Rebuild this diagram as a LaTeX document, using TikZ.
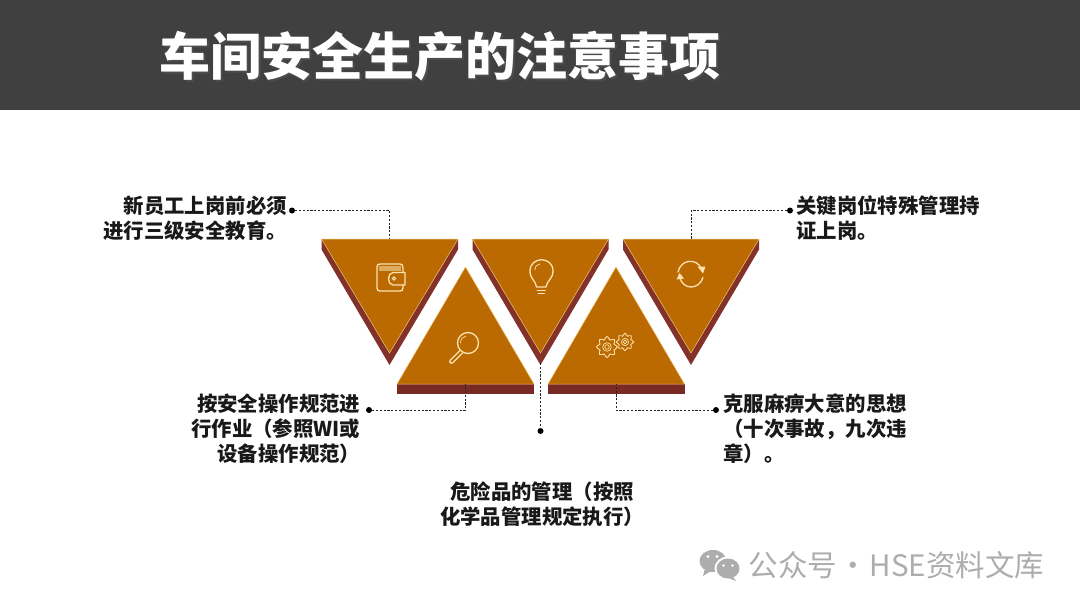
\documentclass[tikz,border=0pt]{standalone}
\usepackage{fontspec}
\setmainfont{Noto Sans CJK SC}
\usetikzlibrary{calc}
\definecolor{hdr}{HTML}{404040}
\definecolor{org}{HTML}{BA6A00}
\definecolor{drk}{HTML}{83322A}
\definecolor{drkb}{HTML}{7A2A24}
\definecolor{edgeo}{HTML}{F2C777}
\definecolor{ico}{HTML}{FBE3B0}
\definecolor{wm}{HTML}{ADADAD}
\tikzset{
  x=1pt,y=-1pt,
  face/.style={fill=org,draw=edgeo,line width=.5pt,line join=miter},
  side/.style={fill=drk,draw=none},
  link/.style={draw=black!85,line width=.6pt,dash pattern=on 2.2pt off 1.6pt},
  dotn/.style={circle,fill=black,inner sep=0pt,minimum size=6pt},
  lbl/.style={font=\fontsize{20.4}{25}\selectfont\bfseries,text=black!90,inner sep=0pt},
  icon/.style={draw=ico,line width=1.3pt,line cap=round,line join=round},
  iconthin/.style={draw=ico,line width=.7pt},
  ttl/.style={anchor=west,inner sep=0pt,font=\fontsize{51}{55}\selectfont\bfseries},
}
\newcommand{\gearshape}[3]{% centre x, y, radius
  \draw[icon,line width=.9pt] plot[smooth cycle,samples=33,domain=0:360,variable=\t,tension=.25]
    ({#1+(#3*(1+.17*cos(8*\t)))*cos(\t)},{#2+(#3*(1+.17*cos(8*\t)))*sin(\t)});
  \draw[iconthin] (#1,#2) circle[radius=#3*.48];
  \draw[iconthin] (#1,#2) circle[radius=#3*.25];
}
\begin{document}
\begin{tikzpicture}
\useasboundingbox (0,0) rectangle (1080,608);
\fill[white] (0,0) rectangle (1080,608);
\fill[hdr] (0,0) rectangle (1080,110);
\node[ttl,text=black!70] at (161.5,58) {车间安全生产的注意事项};
\node[ttl,text=white] (title) at (159.5,56) {车间安全生产的注意事项};

% downward triangles
\foreach \n/\l/\r/\m in {a/321.5/458/389.5,c/472.5/608.5/540.5,e/623/759/691}{
  \fill[side] (\l,239) -- (\l,249.5) -- (\m,365) -- (\r,249.5) -- (\r,239) -- cycle;
  \draw[face] (\l,239) -- (\r,239) -- (\m,353) -- cycle;
  \coordinate (\n-top) at (\m,239);
  \coordinate (\n-tip) at (\m,363);
}
% upward triangles
\foreach \n/\l/\r/\m in {b/397/534/465.5,d/548/684.5/616}{
  \fill[drkb] (\l,384) rectangle (\r,394);
  \draw[face] (\m,267) -- (\r,384) -- (\l,384) -- cycle;
  \coordinate (\n-base) at (\m,384);
}

% connectors
\node[dotn] (d1) at (292,210.5) {};
\node[dotn] (d2) at (369,410) {};
\node[dotn] (d3) at (540.5,431) {};
\node[dotn] (d4) at (716,410) {};
\node[dotn] (d5) at (790,210.5) {};
\draw[link] (d1) -| (a-top);
\draw[link] (d2) -| (b-base);
\draw[link] (c-tip) -- (d3);
\draw[link] (d4) -| (d-base);
\draw[link] (d5) -| (e-top);

% labels
\node[lbl,anchor=east,align=right] (t1) at (287,218.5) {新员工上岗前必须\\进行三级安全教育。};
\node[lbl,anchor=east,align=right] (t2) at (360.5,428.5) {按安全操作规范进\\行作业（参照WI或\\设备操作规范）};
\node[lbl,anchor=center,align=center] (t3) at (542,504) {危险品的管理（按照\\化学品管理规定执行）};
\node[lbl,anchor=west,align=left] (t4) at (723,428.5) {克服麻痹大意的思想\\（十次事故，九次违\\章）。};
\node[lbl,anchor=west,align=left] (t5) at (796,218.5) {关键岗位特殊管理持\\证上岗。};

% wallet icon
\draw[icon] (380,264) -- (400,264) .. controls (402,264) and (403,265) .. (403,268) -- (403,272.5)
  (403,285) -- (403,288) .. controls (403,290) and (402,291) .. (400,291) -- (380,291)
  .. controls (378,291) and (377,290) .. (377,288) -- (377,267) .. controls (377,265) and (378,264) .. (380,264);
\draw[icon] (405,272.5) -- (393,272.5) .. controls (387,272.5) and (387,285) .. (393,285) -- (405,285) -- (405,272.5);
\draw[iconthin,line width=1pt] (394,278.5) circle[radius=1.6];
\fill[ico,opacity=.55] (379,266) rectangle (401,270.5);

% magnifier icon
\draw[icon] (468,343) circle[radius=10.5];
\draw[iconthin] (460.5,343) .. controls (460.5,339) and (463,336.5) .. (466,336);
\draw[icon] (460,350.5) -- (450.5,360) .. controls (448.5,362) and (451,364.5) .. (453,362.5) -- (462.5,353);

% bulb icon
\draw[icon] (536.5,287) .. controls (536,281) and (530,279) .. (530,271)
  .. controls (530,256) and (553,256) .. (553,271)
  .. controls (553,279) and (546.5,281) .. (546,287) -- cycle;
\draw[iconthin] (535,270) .. controls (535,266) and (537,264.5) .. (540,264);
\draw[icon,line width=1pt] (537,290) -- (545.5,290) (538,293) -- (544.5,293);

% cycle icon
\draw[icon] (678,272) .. controls (681,258.5) and (697,258.5) .. (701,268);
\draw[icon] (679.5,277) .. controls (683,290.5) and (699,290) .. (703,277.5);
\fill[ico] (697.5,266.5) -- (705.5,266.5) -- (703,273.5) -- cycle;
\fill[ico] (676.5,279.5) -- (684,278.5) -- (679.5,273) -- cycle;

% gears icon
\gearshape{607}{347}{9}
\gearshape{625}{342}{7.5}

% watermark
\fill[wm] (713,561) ellipse[x radius=13.5,y radius=11];
\fill[wm] (704.5,570) -- (703,576) -- (711,571) -- cycle;
\fill[white] (728,568.5) ellipse[x radius=13.5,y radius=12];
\fill[wm] (728,568.5) ellipse[x radius=11.5,y radius=10];
\fill[wm] (733,577) -- (736,581) -- (727,577.5) -- cycle;
\fill[white] (708,556.5) circle[radius=1.6] (717,556.5) circle[radius=1.6]
  (723.5,565.5) circle[radius=1.4] (732.5,565.5) circle[radius=1.4];
\node[anchor=west,inner sep=0pt,text=wm,font=\fontsize{29.5}{32}\selectfont] (wmk) at (748.5,565) {公众号\hspace{-5pt} · \hspace{-5pt}HSE资料文库};
\end{tikzpicture}
\end{document}
